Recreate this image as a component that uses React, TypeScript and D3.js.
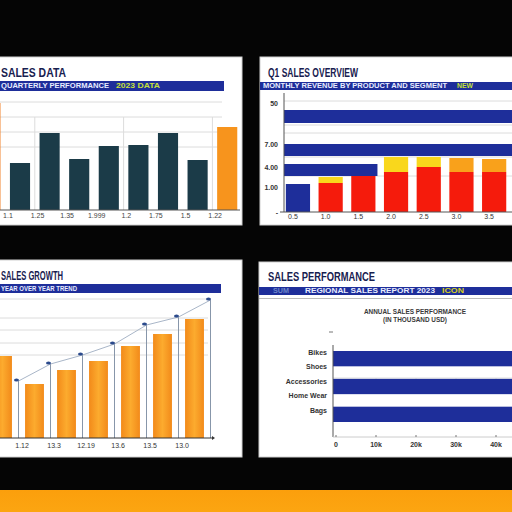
import React from "react";
import * as d3 from "d3";

// ---------- Panel 1 (top-left): column chart ----------
const p1Categories = ["c0", "c1", "c2", "c3", "c4", "c5", "c6", "c7", "c8"];
const p1Labels = ["", "1.1", "1.25", "1.35", "1.999", "1.2", "1.75", "1.5", "1.22"];
const p1Values = [107, 47, 77, 51, 64, 65, 77, 50, 83];
const p1Highlight = [true, false, false, false, false, false, false, false, true];
const p1Grid = [63, 78, 93, 108];
const p1VGridBefore = [2, 5, 8];

// ---------- Panel 2 (top-right): stacked columns ----------
const p2Categories = ["0.5", "1.0", "1.5", "2.0", "2.5", "3.0", "3.5"];
const p2Base = [28, 29, 36, 40, 45, 40, 40];
const p2Cap = [0, 6, 0, 15, 10, 14, 13];
const p2TickValues = [0, 25, 45, 68, 109];
const p2TickLabels = ["-", "1.00", "4.00", "7.00", "50"];
const p2Grid = [111, 87, 79, 55, 36];
const p2BandLo = [89, 56, 36];
const p2BandHi = [102, 68, 48];
const p2BandEnd = [6, 6, 2];

// ---------- Panel 3 (bottom-left): columns + trend ----------
const p3Categories = ["c0", "c1", "c2", "c3", "c4", "c5", "c6"];
const p3Labels = ["", "1.12", "13.3", "12.19", "13.6", "13.5", "13.0"];
const p3Values = [82, 54, 68, 77, 92, 104, 119];
const p3Trend = [57, 74, 83, 94, 113, 121, 138];
const p3Grid = [139, 120, 108, 95, 83];

// ---------- Panel 4 (bottom-right): horizontal bars ----------
const p4Labels = ["Bikes", "Shoes", "Accessories", "Home Wear", "Bags"];
const p4BarNames = ["North", "Central", "South"];
const p4BarValues = [52, 52, 52];
const p4TickValues = [0, 10, 20, 30, 40];
const p4TickLabels = ["0", "10k", "20k", "30k", "40k"];

const FONT = "'Liberation Sans Narrow','Liberation Sans',Arial,sans-serif";
const NAVY = "#1e2e9a";
const TITLE = "#17204f";
const TEAL = "#1b3b48";
const ORANGE = "#f7941d";
const RED = "#f51b0c";
const YELLOW = "#f9d71c";
const CAPORANGE = "#f9a11b";
const GRID = "#dcdcdc";

function Title({ x, y, len, text }: { x: number; y: number; len: number; text: string }) {
  return (
    <text x={x} y={y} fontFamily={FONT} fontWeight="bold" fontSize={13} fill={TITLE}
      textLength={len} lengthAdjust="spacingAndGlyphs">{text}</text>
  );
}

function BandText({ x, y, len, text, fill }: { x: number; y: number; len: number; text: string; fill: string }) {
  return (
    <text x={x} y={y} fontFamily={FONT} fontWeight="bold" fontSize={6.5} fill={fill}
      textLength={len} lengthAdjust="spacingAndGlyphs">{text}</text>
  );
}

export default function App() {
  // Panel 1 scales
  const x1 = d3.scaleBand<string>().domain(p1Categories).range([-24.4, 242]).paddingInner(0.32).paddingOuter(0.16);
  const y1 = d3.scaleLinear().domain([0, 110]).range([210, 100]);
  const gap1 = x1.step() - x1.bandwidth();

  // Panel 2 scales
  const x2 = d3.scaleBand<string>().domain(p2Categories).range([281.6, 510.5]).paddingInner(0.26).paddingOuter(0.13);
  const y2 = d3.scaleLinear().domain([0, 120]).range([212, 92]);

  // Panel 3 scales
  const x3 = d3.scaleBand<string>().domain(p3Categories).range([-13.5, 210.5]).paddingInner(0.41).paddingOuter(0.205);
  const y3 = d3.scaleLinear().domain([0, 140]).range([438, 298]);
  const xb3 = (i: number) => -13.5 + x3.step() * (i + 1);
  const trendLine = d3.line<number>().x((_, i) => xb3(i)).y((d) => y3(d));

  // Panel 4 scales
  const x4 = d3.scaleLinear().domain([0, 40]).range([336, 496]);
  const yl4 = d3.scalePoint<string>().domain(p4Labels).range([352, 410]);
  const yb4 = d3.scaleBand<string>().domain(p4BarNames).range([351, 422]).paddingInner(0.45);

  return (
    <svg width={512} height={512} style={{ position: "absolute", left: 0, top: 0, background: "#050505" }}>
      <defs>
        <linearGradient id="orangeGrad" x1="0" x2="1" y1="0" y2="0">
          <stop offset="0" stopColor="#f28a1a" />
          <stop offset="0.5" stopColor="#fcab2e" />
          <stop offset="1" stopColor="#f28a1a" />
        </linearGradient>
        <linearGradient id="stripGrad" x1="0" x2="0" y1="0" y2="1">
          <stop offset="0" stopColor="#fb9f0c" />
          <stop offset="1" stopColor="#fca511" />
        </linearGradient>
      </defs>
      <rect x={0} y={0} width={512} height={512} fill="#050505" />

      {/* ================= Panel 1 ================= */}
      <g>
        <rect x={-2} y={57} width={244} height={168} fill="#fff" stroke="#d0d0d0" />
        <Title x={1} y={77} len={65} text="SALES DATA" />
        <rect x={-2} y={81} width={226} height={10} fill={NAVY} />
        <BandText x={1} y={88.3} len={108} text="QUARTERLY PERFORMANCE" fill="#e8ecff" />
        <BandText x={116} y={88.3} len={44} text="2023 DATA" fill="#c6e03a" />
        {p1Grid.map((g) => (
          <line key={g} x1={0} x2={222} y1={y1(g)} y2={y1(g)} stroke={GRID} strokeWidth={1} />
        ))}
        {p1VGridBefore.map((i) => {
          const xx = (x1(p1Categories[i]) as number) - gap1 / 2;
          return <line key={i} x1={xx} x2={xx} y1={y1(93)} y2={y1(0)} stroke={GRID} strokeWidth={1} />;
        })}
        {p1Categories.map((c, i) => (
          <rect key={c} x={x1(c)} y={y1(p1Values[i])} width={x1.bandwidth()}
            height={y1(0) - y1(p1Values[i])}
            fill={p1Highlight[i] ? (i === 0 ? "#f07a1c" : ORANGE) : TEAL} />
        ))}
        <line x1={0} x2={240} y1={y1(0)} y2={y1(0)} stroke="#555" strokeWidth={1} />
        {p1Categories.map((c, i) => (
          <text key={"l" + c} x={(x1(c) as number) - 2} y={218} fontFamily={FONT} fontSize={7}
            fill="#444" textAnchor="middle">{p1Labels[i]}</text>
        ))}
      </g>

      {/* ================= Panel 2 ================= */}
      <g>
        <rect x={260} y={57} width={254} height={168} fill="#fff" stroke="#d0d0d0" />
        <Title x={268} y={77} len={90} text="Q1 SALES OVERVIEW" />
        <rect x={260} y={82} width={254} height={8} fill={NAVY} />
        <BandText x={263} y={88.2} len={184} text="MONTHLY REVENUE BY PRODUCT AND SEGMENT" fill="#e8ecff" />
        <BandText x={457} y={88.2} len={16} text="NEW" fill="#c6e03a" />
        {p2Grid.map((g) => (
          <line key={g} x1={284} x2={512} y1={y2(g)} y2={y2(g)} stroke={GRID} strokeWidth={1} />
        ))}
        {p2BandLo.map((lo, i) => {
          const end = p2BandEnd[i] === p2Categories.length - 1
            ? 512
            : (x2(p2Categories[p2BandEnd[i]]) as number) + x2.bandwidth() + 2;
          return (
            <rect key={"b" + i} x={284} y={y2(p2BandHi[i])} width={end - 284}
              height={y2(lo) - y2(p2BandHi[i])} fill={NAVY} />
          );
        })}
        {p2Categories.map((c, i) => (
          <g key={c}>
            <rect x={x2(c)} y={y2(p2Base[i])} width={x2.bandwidth()} height={y2(0) - y2(p2Base[i])}
              fill={i === 0 ? NAVY : RED} />
            {p2Cap[i] > 0 && (
              <rect x={x2(c)} y={y2(p2Base[i] + p2Cap[i])} width={x2.bandwidth()}
                height={y2(p2Base[i]) - y2(p2Base[i] + p2Cap[i])}
                fill={i >= 5 ? CAPORANGE : YELLOW} />
            )}
          </g>
        ))}
        <line x1={284} x2={284} y1={93} y2={212} stroke="#555" strokeWidth={1} />
        <line x1={280} x2={512} y1={212} y2={212} stroke="#555" strokeWidth={1} />
        {p2TickValues.map((v, i) => (
          <text key={"t" + i} x={278} y={y2(v) + 2.5} fontFamily={FONT} fontSize={7} fontWeight="bold"
            fill="#333" textAnchor="end">{p2TickLabels[i]}</text>
        ))}
        {p2Categories.map((c, i) => (
          <text key={"x" + i} x={(x2(c) as number) + x2.bandwidth() / 2 - 5} y={219} fontFamily={FONT}
            fontSize={7} fill="#333" textAnchor="middle">{c}</text>
        ))}
      </g>

      {/* ================= Panel 3 ================= */}
      <g>
        <rect x={-2} y={260} width={244} height={197} fill="#fff" stroke="#d0d0d0" />
        <Title x={1} y={280} len={62} text="SALES GROWTH" />
        <rect x={-2} y={284} width={223} height={9} fill={NAVY} />
        <BandText x={1} y={290.6} len={76} text="YEAR OVER YEAR TREND" fill="#e8ecff" />
        {p3Grid.map((g) => (
          <line key={g} x1={0} x2={208} y1={y3(g)} y2={y3(g)} stroke={GRID} strokeWidth={1} />
        ))}
        {p3Categories.map((c, i) => (
          <rect key={c} x={x3(c)} y={y3(p3Values[i])} width={x3.bandwidth()}
            height={y3(0) - y3(p3Values[i])} fill="url(#orangeGrad)" />
        ))}
        {p3Trend.map((v, i) => (
          <line key={"v" + i} x1={xb3(i)} x2={xb3(i)} y1={y3(v)} y2={y3(0)} stroke="#8796aa" strokeWidth={1} />
        ))}
        <path d={trendLine(p3Trend) || ""} fill="none" stroke="#a9b6c8" strokeWidth={1} />
        {p3Trend.map((v, i) => (
          <ellipse key={"m" + i} cx={xb3(i) - 2} cy={y3(v) - 1} rx={2.5} ry={1.5} fill="#2b4a8c" />
        ))}
        <line x1={0} x2={212} y1={y3(0)} y2={y3(0)} stroke="#333" strokeWidth={1} />
        <path d={`M212,${y3(0) - 2}L215,${y3(0)}L212,${y3(0) + 2}Z`} fill="#333" />
        {p3Categories.map((c, i) => (
          <text key={"x" + c} x={(x3(c) as number) - 3} y={448} fontFamily={FONT} fontSize={7}
            fill="#333" textAnchor="middle">{p3Labels[i]}</text>
        ))}
      </g>

      {/* ================= Panel 4 ================= */}
      <g>
        <rect x={259} y={262} width={255} height={195} fill="#fff" stroke="#d0d0d0" />
        <Title x={268} y={281} len={107} text="SALES PERFORMANCE" />
        <rect x={259} y={287} width={255} height={8} fill={NAVY} />
        <BandText x={273} y={293.1} len={16} text="SUM" fill="#6f86c9" />
        <BandText x={305} y={293.1} len={130} text="REGIONAL SALES REPORT 2023" fill="#e8ecff" />
        <BandText x={442} y={293.1} len={22} text="ICON" fill="#d9d21a" />
        <line x1={259} x2={512} y1={298.5} y2={298.5} stroke="#bbb" strokeWidth={1} />
        <text x={415} y={314} fontFamily={FONT} fontSize={8} fontWeight="bold" fill="#3a3a3a"
          textAnchor="middle" textLength={102} lengthAdjust="spacingAndGlyphs">ANNUAL SALES PERFORMANCE</text>
        <text x={415} y={322} fontFamily={FONT} fontSize={7} fontWeight="bold" fill="#3a3a3a"
          textAnchor="middle" textLength={64} lengthAdjust="spacingAndGlyphs">(IN THOUSAND USD)</text>
        {/* grid strip */}
        <line x1={333} x2={512} y1={378} y2={378} stroke={GRID} strokeWidth={1} />
        <line x1={333} x2={512} y1={386} y2={386} stroke={GRID} strokeWidth={1} />
        {p4TickValues.slice(1).map((v) => (
          <line key={"g" + v} x1={x4(v)} x2={x4(v)} y1={378} y2={386} stroke={GRID} strokeWidth={1} />
        ))}
        {p4BarNames.map((n, i) => (
          <rect key={n} x={333} y={yb4(n)} width={x4(p4BarValues[i]) - 333} height={yb4.bandwidth()} fill={NAVY} />
        ))}
        <line x1={333} x2={333} y1={345} y2={437} stroke="#555" strokeWidth={1} />
        <line x1={329} x2={333} y1={332} y2={332} stroke="#777" strokeWidth={1} />
        <line x1={333} x2={512} y1={437} y2={437} stroke="#ccc" strokeWidth={1} />
        {p4TickValues.map((v) => (
          <line key={"tk" + v} x1={x4(v)} x2={x4(v)} y1={435} y2={437} stroke="#777" strokeWidth={1} />
        ))}
        {p4Labels.map((l) => (
          <text key={l} x={327} y={(yl4(l) as number) + 2.5} fontFamily={FONT} fontSize={7} fontWeight="bold"
            fill="#333" textAnchor="end">{l}</text>
        ))}
        {p4TickValues.map((v, i) => (
          <text key={"xl" + v} x={x4(v)} y={447} fontFamily={FONT} fontSize={7} fontWeight="bold"
            fill="#333" textAnchor="middle">{p4TickLabels[i]}</text>
        ))}
      </g>

      {/* bottom strip */}
      <rect x={0} y={490} width={512} height={22} fill="url(#stripGrad)" />
    </svg>
  );
}
